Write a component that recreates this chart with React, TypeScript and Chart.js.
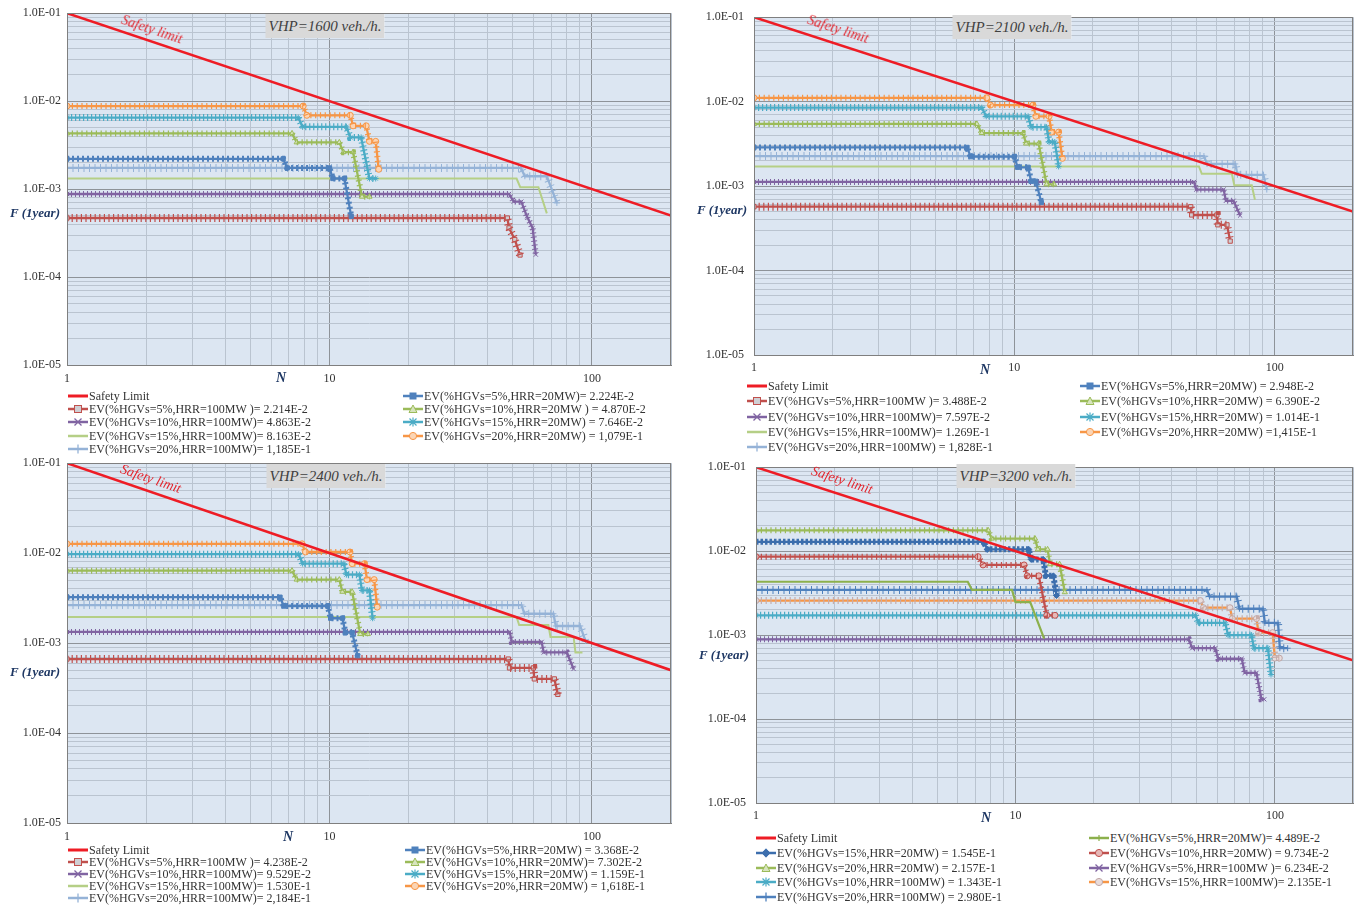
import React, { useEffect, useRef } from 'react';
import { Chart, registerables } from 'chart.js';
Chart.register(...registerables);

type Pt = [number, number];

// ---------------- DATA ----------------
const SAFETY_LIMIT: Pt[] = [[1, 0.1], [200, 0.0005]];

// VHP = 1600 veh./h
const P1_5_100: Pt[] = [[1, 4.69e-4], [47.6, 4.69e-4], [48.3, 3.62e-4], [50.8, 2.67e-4], [53.2, 1.78e-4]];
const P1_10_100: Pt[] = [[1, 8.8e-4], [48.3, 8.8e-4], [50.3, 7.2e-4], [53.8, 7.2e-4], [56.5, 4.9e-4], [59.4, 3.6e-4], [61.1, 1.8e-4]];
const P1_15_100: Pt[] = [[1, 1.32e-3], [51.6, 1.32e-3], [53.3, 1.05e-3], [62.5, 1.05e-3], [67.3, 5.3e-4]];
const P1_20_100: Pt[] = [[1, 1.74e-3], [53.6, 1.74e-3], [55.5, 1.4e-3], [67.3, 1.4e-3], [73.5, 6.96e-4]];
const P1_5_20: Pt[] = [[1, 2.21e-3], [6.66, 2.21e-3], [6.9, 1.74e-3], [10, 1.74e-3], [10.3, 1.32e-3], [11.4, 1.32e-3], [12.1, 4.9e-4]];
const P1_10_20: Pt[] = [[1, 4.3e-3], [7.2, 4.3e-3], [7.5, 3.4e-3], [10.9, 3.4e-3], [11.3, 2.63e-3], [12.3, 2.63e-3], [13.3, 8.2e-4], [14.2, 8.2e-4]];
const P1_15_20: Pt[] = [[1, 6.5e-3], [7.6, 6.5e-3], [7.9, 5.1e-3], [11.6, 5.1e-3], [12.0, 3.87e-3], [13.2, 3.87e-3], [14.2, 1.32e-3], [15.0, 1.32e-3]];
const P1_20_20: Pt[] = [[1, 8.8e-3], [7.94, 8.8e-3], [8.2, 6.9e-3], [12.0, 6.9e-3], [12.3, 5.24e-3], [13.8, 5.24e-3], [14.2, 3.49e-3], [15.0, 3.49e-3], [15.4, 1.68e-3]];

// VHP = 2100 veh./h
const P2_5_100: Pt[] = [[1, 5.7e-4], [47.6, 5.7e-4], [48, 4.55e-4], [60, 4.55e-4], [60.5, 3.48e-4], [65.6, 3.48e-4], [67.5, 2.23e-4]];
const P2_10_100: Pt[] = [[1, 1.12e-3], [49, 1.12e-3], [50, 9.1e-4], [63.7, 9.1e-4], [65, 6.7e-4], [69.5, 6.7e-4], [73.7, 4.48e-4]];
const P2_15_100: Pt[] = [[1, 1.71e-3], [51.2, 1.71e-3], [52.5, 1.4e-3], [68.5, 1.4e-3], [70, 1.02e-3], [81.7, 1.02e-3], [84, 6.9e-4]];
const P2_20_100: Pt[] = [[1, 2.27e-3], [53.5, 2.27e-3], [55, 1.83e-3], [70.6, 1.83e-3], [72, 1.36e-3], [90.6, 1.36e-3], [93.3, 9.1e-4]];
const P2_5_20: Pt[] = [[1, 2.87e-3], [6.58, 2.87e-3], [6.8, 2.23e-3], [10, 2.23e-3], [10.3, 1.67e-3], [11.3, 1.67e-3], [11.6, 1.14e-3], [12.1, 1.14e-3], [12.7, 6.4e-4]];
const P2_10_20: Pt[] = [[1, 5.45e-3], [7.18, 5.45e-3], [7.5, 4.25e-3], [10.8, 4.25e-3], [11.1, 3.19e-3], [12.4, 3.19e-3], [13.3, 1.05e-3], [14.2, 1.05e-3]];
const P2_15_20: Pt[] = [[1, 8.5e-3], [7.5, 8.5e-3], [7.8, 6.7e-3], [11.3, 6.7e-3], [11.6, 4.99e-3], [13.3, 4.99e-3], [13.6, 3.33e-3], [14.3, 3.33e-3], [14.8, 1.71e-3]];
const P2_20_20: Pt[] = [[1, 1.11e-2], [7.83, 1.11e-2], [8.1, 9.1e-3], [11.8, 9.1e-3], [12.1, 6.7e-3], [13.6, 6.7e-3], [13.9, 4.36e-3], [14.8, 4.36e-3], [15.3, 2.13e-3]];

// VHP = 2400 veh./h
const P3_5_100: Pt[] = [[1, 6.65e-4], [48, 6.65e-4], [48.5, 5.3e-4], [59.8, 5.3e-4], [60.3, 4.0e-4], [71.9, 4.0e-4], [74.1, 2.69e-4]];
const P3_10_100: Pt[] = [[1, 1.33e-3], [48.6, 1.33e-3], [49.5, 1.03e-3], [64.3, 1.03e-3], [65.5, 7.87e-4], [80.2, 7.87e-4], [85.1, 5.16e-4]];
const P3_15_100: Pt[] = [[1, 1.95e-3], [51.6, 1.95e-3], [52.8, 1.59e-3], [68.2, 1.59e-3], [69.5, 1.17e-3], [85.1, 1.17e-3], [86.5, 7.87e-4], [92, 7.87e-4]];
const P3_20_100: Pt[] = [[1, 2.65e-3], [53.9, 2.65e-3], [55.3, 2.12e-3], [71.3, 2.12e-3], [72.8, 1.55e-3], [90.2, 1.55e-3], [94.4, 1.06e-3]];
const P3_5_20: Pt[] = [[1, 3.24e-3], [6.48, 3.24e-3], [6.7, 2.58e-3], [9.85, 2.58e-3], [10.1, 1.89e-3], [11.2, 1.89e-3], [11.5, 1.31e-3], [12.2, 1.31e-3], [12.8, 7.24e-4]];
const P3_10_20: Pt[] = [[1, 6.39e-3], [7.2, 6.39e-3], [7.5, 5.08e-3], [10.9, 5.08e-3], [11.2, 3.72e-3], [12.2, 3.72e-3], [13.1, 1.26e-3], [14.0, 1.26e-3]];
const P3_15_20: Pt[] = [[1, 9.75e-3], [7.63, 9.75e-3], [7.9, 7.64e-3], [11.35, 7.64e-3], [11.6, 5.77e-3], [13.0, 5.77e-3], [13.3, 3.85e-3], [14.2, 3.85e-3], [14.6, 1.89e-3]];
const P3_20_20: Pt[] = [[1, 1.27e-2], [7.86, 1.27e-2], [8.1, 1.03e-2], [11.97, 1.03e-2], [12.2, 7.64e-3], [13.6, 7.64e-3], [13.9, 5.08e-3], [14.8, 5.08e-3], [15.2, 2.51e-3]];

// VHP = 3200 veh./h
const P4_5_20: Pt[] = [[1, 4.32e-3], [6.55, 4.32e-3], [6.8, 3.45e-3], [9.7, 3.45e-3], [10, 2.47e-3], [11.4, 2.47e-3], [12.9, 9.1e-4]];
const P4_10_20: Pt[] = [[1, 8.6e-3], [7.18, 8.6e-3], [7.5, 6.85e-3], [10.8, 6.85e-3], [11.1, 5.08e-3], [12.3, 5.08e-3], [13.2, 1.72e-3], [14.2, 1.72e-3]];
const P4_15_20: Pt[] = [[1, 1.29e-2], [7.53, 1.29e-2], [7.8, 1.05e-2], [11.25, 1.05e-2], [11.5, 7.98e-3], [12.8, 7.98e-3], [13.1, 5.08e-3], [14.0, 5.08e-3], [14.4, 2.96e-3]];
const P4_20_20: Pt[] = [[1, 1.77e-2], [7.85, 1.77e-2], [8.1, 1.41e-2], [11.9, 1.41e-2], [12.2, 1.05e-2], [13.3, 1.05e-2], [13.6, 6.98e-3], [14.8, 6.98e-3], [15.5, 3.24e-3]];
const P4_5_100: Pt[] = [[1, 8.9e-4], [46.6, 8.9e-4], [48, 6.98e-4], [58.9, 6.98e-4], [60.5, 5.23e-4], [74.5, 5.23e-4], [76.5, 3.55e-4], [84.9, 3.55e-4], [88.7, 1.72e-4], [91, 1.72e-4]];
const P4_10_100: Pt[] = [[1, 1.72e-3], [49.4, 1.72e-3], [50.8, 1.4e-3], [64.3, 1.4e-3], [66, 1.0e-3], [81.3, 1.0e-3], [83, 6.98e-4], [94, 6.98e-4], [96.6, 3.39e-4]];
const P4_15_100: Pt[] = [[1, 2.58e-3], [51.6, 2.58e-3], [53, 2.12e-3], [67.1, 2.12e-3], [68.5, 1.57e-3], [84.9, 1.57e-3], [86.5, 1.07e-3], [98, 1.07e-3], [100, 5.32e-4], [104, 5.32e-4]];
const P4_20_100: Pt[] = [[1, 3.45e-3], [54.7, 3.45e-3], [56, 2.88e-3], [71.3, 2.88e-3], [73, 2.06e-3], [90, 2.06e-3], [91.5, 1.4e-3], [102.8, 1.4e-3], [104.5, 6.98e-4], [112, 6.98e-4]];

// Axis ticks
const X_MIN = 1;
const X_MAX = 200;
const X_GRID = [1, 2, 3, 4, 5, 6, 7, 8, 9, 10, 20, 30, 40, 50, 60, 70, 80, 90, 100, 200];
const X_MAJOR = [1, 10, 100];
const X_LABELS = ['1', '10', '100'];
const Y_MIN = 1e-5;
const Y_MAX = 1e-1;
const Y_MAJOR = [1e-5, 1e-4, 1e-3, 1e-2, 1e-1];
const Y_LABELS = ['1.0E-05', '1.0E-04', '1.0E-03', '1.0E-02', '1.0E-01'];
const Y_MINOR_STEPS = [2, 3, 4, 5, 6, 7, 8, 9];
const Y_GRID = Y_MAJOR.slice(0, 4).flatMap((d) => [d, ...Y_MINOR_STEPS.map((m) => d * m)]).concat([Y_MAX]);

const TITLES = ['VHP=1600 veh./h.', 'VHP=2100 veh./h.', 'VHP=2400 veh./h.', 'VHP=3200 veh./h.'];

// ---------------- STYLES ----------------
const SERIF = '"Liberation Serif", "Times New Roman", Times, serif';
const PLOT_BG = '#DCE6F2';
const MAJOR_GRID = '#8E9399';
const MINOR_GRID = '#BAC4D0';
const AXIS_BORDER = '#7F7F7F';
const SAFETY_COLOR = '#EE1C25';
const NAVY = '#1F3864';
const TEXT = '#333333';

interface Sty {
  color: string;
  marker: string;
  fill?: string;
  markerColor?: string;
  width?: number;
  hatch?: { w: number; dash: number[]; color?: string };
}

const STYLES: Record<string, Sty> = {
  safety: { color: SAFETY_COLOR, marker: 'none', width: 2.6 },
  blueSq: { color: '#4F81BD', marker: 'rect', fill: '#4F81BD', hatch: { w: 6, dash: [2, 3] } },
  redSq: { color: '#C0504D', marker: 'openRect', fill: '#CFCFD4', hatch: { w: 8, dash: [1.2, 3.4] } },
  greenTri: { color: '#9BBB59', marker: 'triangle', fill: '#D7E4BD', hatch: { w: 6, dash: [1.2, 3.6] } },
  purpleX: { color: '#8064A2', marker: 'crossRot', hatch: { w: 6, dash: [1, 3] } },
  tealStar: { color: '#4BACC6', marker: 'star', hatch: { w: 7, dash: [1.2, 2.8] } },
  lgPlain: { color: '#B5CF86', marker: 'none', width: 2 },
  orangeCirc: { color: '#F79646', marker: 'circle', fill: '#FBD5B5', hatch: { w: 6, dash: [1.2, 3.6] } },
  lbPlus: { color: '#95B3D7', marker: 'cross', hatch: { w: 8, dash: [1, 4.5] } },
  blueDia: { color: '#3C6EAD', marker: 'rectRot', fill: '#3C6EAD', hatch: { w: 6, dash: [2.5, 2] } },
  greenPlain: { color: '#8CB04C', marker: 'tick', width: 2.2 },
  redCirc: { color: '#C0504D', marker: 'circle', fill: '#E6B9B8', hatch: { w: 6, dash: [1.2, 3.6] } },
  bluePlus: { color: '#4F81BD', marker: 'cross', hatch: { w: 8, dash: [1, 4.5] } },
  tanCirc: { color: '#F79646', marker: 'circle', markerColor: '#BFA6A6', fill: '#E8DCDC', hatch: { w: 7, dash: [1.2, 3.6], color: '#C7ADAA' } },
};

const POINT_STYLE: Record<string, any> = {
  rect: 'rect', openRect: 'rect', triangle: 'triangle', crossRot: 'crossRot', star: 'star',
  circle: 'circle', cross: 'cross', rectRot: 'rectRot',
};

interface SeriesCfg { label: string; data: Pt[]; style: string; col: 0 | 1; }

const PANEL_SERIES: SeriesCfg[][] = [
  [
    { label: 'EV(%HGVs=5%,HRR=20MW)= 2.224E-2', data: P1_5_20, style: 'blueSq', col: 1 },
    { label: 'EV(%HGVs=5%,HRR=100MW )= 2.214E-2', data: P1_5_100, style: 'redSq', col: 0 },
    { label: 'EV(%HGVs=10%,HRR=20MW ) = 4.870E-2', data: P1_10_20, style: 'greenTri', col: 1 },
    { label: 'EV(%HGVs=10%,HRR=100MW)= 4.863E-2', data: P1_10_100, style: 'purpleX', col: 0 },
    { label: 'EV(%HGVs=15%,HRR=20MW) = 7.646E-2', data: P1_15_20, style: 'tealStar', col: 1 },
    { label: 'EV(%HGVs=15%,HRR=100MW)= 8.163E-2', data: P1_15_100, style: 'lgPlain', col: 0 },
    { label: 'EV(%HGVs=20%,HRR=20MW) = 1,079E-1', data: P1_20_20, style: 'orangeCirc', col: 1 },
    { label: 'EV(%HGVs=20%,HRR=100MW)= 1,185E-1', data: P1_20_100, style: 'lbPlus', col: 0 },
  ],
  [
    { label: 'EV(%HGVs=5%,HRR=20MW) = 2.948E-2', data: P2_5_20, style: 'blueSq', col: 1 },
    { label: 'EV(%HGVs=5%,HRR=100MW )= 3.488E-2', data: P2_5_100, style: 'redSq', col: 0 },
    { label: 'EV(%HGVs=10%,HRR=20MW) = 6.390E-2', data: P2_10_20, style: 'greenTri', col: 1 },
    { label: 'EV(%HGVs=10%,HRR=100MW)= 7.597E-2', data: P2_10_100, style: 'purpleX', col: 0 },
    { label: 'EV(%HGVs=15%,HRR=20MW) = 1.014E-1', data: P2_15_20, style: 'tealStar', col: 1 },
    { label: 'EV(%HGVs=15%,HRR=100MW)= 1.269E-1', data: P2_15_100, style: 'lgPlain', col: 0 },
    { label: 'EV(%HGVs=20%,HRR=20MW) =1,415E-1', data: P2_20_20, style: 'orangeCirc', col: 1 },
    { label: 'EV(%HGVs=20%,HRR=100MW) = 1,828E-1', data: P2_20_100, style: 'lbPlus', col: 0 },
  ],
  [
    { label: 'EV(%HGVs=5%,HRR=20MW) = 3.368E-2', data: P3_5_20, style: 'blueSq', col: 1 },
    { label: 'EV(%HGVs=5%,HRR=100MW )= 4.238E-2', data: P3_5_100, style: 'redSq', col: 0 },
    { label: 'EV(%HGVs=10%,HRR=20MW)= 7.302E-2', data: P3_10_20, style: 'greenTri', col: 1 },
    { label: 'EV(%HGVs=10%,HRR=100MW)= 9.529E-2', data: P3_10_100, style: 'purpleX', col: 0 },
    { label: 'EV(%HGVs=15%,HRR=20MW) = 1.159E-1', data: P3_15_20, style: 'tealStar', col: 1 },
    { label: 'EV(%HGVs=15%,HRR=100MW)= 1.530E-1', data: P3_15_100, style: 'lgPlain', col: 0 },
    { label: 'EV(%HGVs=20%,HRR=20MW) = 1,618E-1', data: P3_20_20, style: 'orangeCirc', col: 1 },
    { label: 'EV(%HGVs=20%,HRR=100MW)= 2,184E-1', data: P3_20_100, style: 'lbPlus', col: 0 },
  ],
  [
    { label: 'EV(%HGVs=5%,HRR=20MW)= 4.489E-2', data: P4_5_20, style: 'greenPlain', col: 1 },
    { label: 'EV(%HGVs=15%,HRR=20MW) = 1.545E-1', data: P4_15_20, style: 'blueDia', col: 0 },
    { label: 'EV(%HGVs=10%,HRR=20MW) = 9.734E-2', data: P4_10_20, style: 'redCirc', col: 1 },
    { label: 'EV(%HGVs=20%,HRR=20MW) = 2.157E-1', data: P4_20_20, style: 'greenTri', col: 0 },
    { label: 'EV(%HGVs=5%,HRR=100MW )= 6.234E-2', data: P4_5_100, style: 'purpleX', col: 1 },
    { label: 'EV(%HGVs=10%,HRR=100MW) = 1.343E-1', data: P4_10_100, style: 'tealStar', col: 0 },
    { label: 'EV(%HGVs=15%,HRR=100MW)= 2.135E-1', data: P4_15_100, style: 'tanCirc', col: 1 },
    { label: 'EV(%HGVs=20%,HRR=100MW) = 2.980E-1', data: P4_20_100, style: 'bluePlus', col: 0 },
  ],
];

// ---------------- LAYOUT ----------------
interface Layout {
  canvas: { left: number; top: number; width: number; height: number };
  plot: { left: number; top: number; right: number; bottom: number };
  yPad: number; xPad: number;
  title: { cx: number; cy: number };
  safety: { left: number; top: number; angle: number };
  fLabel: { cx: number; cy: number };
  nLabel: { cx: number; cy: number };
  legend: { lx: number; rx: number; y0: number; dy: number };
}

const LAYOUTS: Layout[] = [
  {
    canvas: { left: 0, top: 0, width: 680, height: 392 },
    plot: { left: 67, top: 12, right: 671, bottom: 365 },
    yPad: 6, xPad: 7,
    title: { cx: 325, cy: 26 }, safety: { left: 124, top: 13, angle: 18.6 },
    fLabel: { cx: 35, cy: 213 }, nLabel: { cx: 281, cy: 378 },
    legend: { lx: 68, rx: 403, y0: 396, dy: 13.2 },
  },
  {
    canvas: { left: 680, top: 0, width: 679, height: 382 },
    plot: { left: 754, top: 12, right: 1357, bottom: 355 },
    yPad: 10, xPad: 6,
    title: { cx: 1012, cy: 27 }, safety: { left: 810, top: 13, angle: 18.1 },
    fLabel: { cx: 722, cy: 210 }, nLabel: { cx: 985, cy: 370 },
    legend: { lx: 747, rx: 1080, y0: 386, dy: 15.3 },
  },
  {
    canvas: { left: 0, top: 450, width: 680, height: 400 },
    plot: { left: 67, top: 461, right: 671, bottom: 823 },
    yPad: 6, xPad: 7,
    title: { cx: 326, cy: 476 }, safety: { left: 123, top: 462, angle: 19.1 },
    fLabel: { cx: 35, cy: 672 }, nLabel: { cx: 288, cy: 837 },
    legend: { lx: 68, rx: 405, y0: 850, dy: 12 },
  },
  {
    canvas: { left: 680, top: 450, width: 679, height: 380 },
    plot: { left: 756, top: 462, right: 1359, bottom: 803 },
    yPad: 10, xPad: 6,
    title: { cx: 1016, cy: 476 }, safety: { left: 814, top: 464, angle: 18 },
    fLabel: { cx: 724, cy: 655 }, nLabel: { cx: 986, cy: 818 },
    legend: { lx: 756, rx: 1089, y0: 838, dy: 14.8 },
  },
];

// ---------------- PLUGINS ----------------
const plotBgPlugin = {
  id: 'plotBg',
  beforeDraw(chart: any) {
    const { ctx, chartArea: a } = chart;
    ctx.save();
    ctx.fillStyle = PLOT_BG;
    ctx.fillRect(a.left, a.top, a.right - a.left, a.bottom - a.top);
    ctx.restore();
  },
  afterDraw(chart: any) {
    const { ctx, chartArea: a } = chart;
    ctx.save();
    ctx.strokeStyle = AXIS_BORDER;
    ctx.lineWidth = 1;
    ctx.strokeRect(Math.round(a.left) + 0.5, Math.round(a.top) + 0.5, Math.round(a.right - a.left) - 1, Math.round(a.bottom - a.top));
    ctx.restore();
  },
};

const hatchPlugin = {
  id: 'hatch',
  afterDatasetDraw(chart: any, args: any) {
    const ds = chart.data.datasets[args.index];
    const h = ds && ds.hatch;
    if (!h) return;
    const pts = args.meta.data;
    if (!pts || pts.length < 2) return;
    const { ctx, chartArea: a } = chart;
    ctx.save();
    ctx.beginPath();
    ctx.rect(a.left, a.top, a.right - a.left, a.bottom - a.top);
    ctx.clip();
    ctx.beginPath();
    pts.forEach((p: any, i: number) => (i ? ctx.lineTo(p.x, p.y) : ctx.moveTo(p.x, p.y)));
    ctx.setLineDash(h.dash);
    ctx.lineCap = 'butt';
    ctx.lineJoin = 'miter';
    ctx.lineWidth = h.w;
    ctx.strokeStyle = h.color || ds.borderColor;
    ctx.stroke();
    ctx.restore();
  },
};

// ---------------- COMPONENTS ----------------
function FNChart({ idx }: { idx: number }) {
  const ref = useRef<HTMLCanvasElement>(null);
  const L = LAYOUTS[idx];
  useEffect(() => {
    const c = L.canvas;
    const p = L.plot;
    const yW = p.left - c.left;
    const xH = c.top + c.height - p.bottom;
    const toXY = (d: Pt[]) => d.map(([x, y]) => ({ x, y }));
    const datasets: any[] = [
      {
        label: 'Safety Limit', data: toXY(SAFETY_LIMIT), borderColor: SAFETY_COLOR,
        borderWidth: STYLES.safety.width, pointRadius: 0, tension: 0,
      },
      ...PANEL_SERIES[idx].map((s) => {
        const st = STYLES[s.style];
        const ps = POINT_STYLE[st.marker];
        return {
          label: s.label,
          data: toXY(s.data),
          borderColor: st.color,
          borderWidth: st.width ?? 2.3,
          tension: 0,
          pointStyle: ps || false,
          pointRadius: ps ? 3 : 0,
          pointBorderWidth: 1,
          pointBorderColor: st.markerColor ?? st.color,
          pointBackgroundColor: st.fill ?? 'rgba(255,255,255,0)',
          hatch: st.hatch,
        };
      }),
    ];
    const tickFont = { family: SERIF, size: 12 };
    const chart = new Chart(ref.current as HTMLCanvasElement, {
      type: 'line',
      data: { datasets },
      options: {
        responsive: false,
        animation: false,
        events: [],
        layout: { padding: { left: 0, top: p.top - c.top, right: c.left + c.width - p.right, bottom: 0 } },
        plugins: { legend: { display: false }, tooltip: { enabled: false }, title: { display: false } },
        scales: {
          x: {
            type: 'logarithmic', min: X_MIN, max: X_MAX,
            afterBuildTicks: (s: any) => { s.ticks = X_GRID.map((v) => ({ value: v })); },
            afterFit: (s: any) => { s.height = xH; },
            ticks: {
              autoSkip: false, maxRotation: 0, minRotation: 0, padding: L.xPad, font: tickFont, color: TEXT,
              callback: (v: any) => { const i = X_MAJOR.indexOf(Number(v)); return i >= 0 ? X_LABELS[i] : ''; },
            },
            grid: {
              drawTicks: false, lineWidth: 1,
              color: (ctx: any) => (ctx.tick && X_MAJOR.includes(ctx.tick.value) ? MAJOR_GRID : MINOR_GRID),
            },
            border: { display: true, color: AXIS_BORDER },
          },
          y: {
            type: 'logarithmic', min: Y_MIN, max: Y_MAX,
            afterBuildTicks: (s: any) => { s.ticks = Y_GRID.map((v) => ({ value: v })); },
            afterFit: (s: any) => { s.width = yW; },
            ticks: {
              autoSkip: false, padding: L.yPad, font: tickFont, color: TEXT,
              callback: (v: any) => { const i = Y_MAJOR.indexOf(Number(v)); return i >= 0 ? Y_LABELS[i] : ''; },
            },
            grid: {
              drawTicks: false, lineWidth: 1,
              color: (ctx: any) => (ctx.tick && Y_MAJOR.includes(ctx.tick.value) ? MAJOR_GRID : MINOR_GRID),
            },
            border: { display: true, color: AXIS_BORDER },
          },
        },
      } as any,
      plugins: [plotBgPlugin, hatchPlugin],
    });
    return () => chart.destroy();
  }, [idx]);
  const c = L.canvas;
  return (
    <canvas
      ref={ref}
      width={c.width}
      height={c.height}
      style={{ position: 'absolute', left: c.left, top: c.top, width: c.width, height: c.height }}
    />
  );
}

function Swatch({ st, safety }: { st: Sty; safety?: boolean }) {
  const c = st.color;
  const m = st.markerColor ?? st.color;
  let mk: any = null;
  switch (st.marker) {
    case 'rect': mk = <rect x={7} y={4} width={6} height={6} fill={st.fill ?? c} stroke={m} />; break;
    case 'openRect': mk = <rect x={6.5} y={3.5} width={7} height={7} fill={st.fill ?? '#ccc'} stroke={m} />; break;
    case 'triangle': mk = <polygon points="10,3 14,10.5 6,10.5" fill={st.fill ?? 'none'} stroke={m} />; break;
    case 'crossRot': mk = <path d="M6.5 3.5 L13.5 10.5 M13.5 3.5 L6.5 10.5" stroke={m} strokeWidth={1.3} />; break;
    case 'star': mk = <path d="M6.5 3.5 L13.5 10.5 M13.5 3.5 L6.5 10.5 M10 2.5 V11.5" stroke={m} strokeWidth={1.2} />; break;
    case 'circle': mk = <circle cx={10} cy={7} r={3.6} fill={st.fill ?? 'none'} stroke={m} />; break;
    case 'cross': mk = <path d="M10 2.5 V11.5 M5.5 7 H14.5" stroke={m} strokeWidth={1.3} />; break;
    case 'rectRot': mk = <polygon points="10,2.8 14,7 10,11.2 6,7" fill={st.fill ?? c} stroke={m} />; break;
    case 'tick': mk = <path d="M10 4 V10" stroke={m} strokeWidth={1.2} />; break;
  }
  return (
    <svg width={20} height={14} style={{ flex: '0 0 20px' }}>
      <line x1={0} y1={7} x2={20} y2={7} stroke={c} strokeWidth={safety ? 3 : 2.5} />
      {mk}
    </svg>
  );
}

function Overlays({ idx }: { idx: number }) {
  const L = LAYOUTS[idx];
  const series = PANEL_SERIES[idx];
  const left = [{ label: 'Safety Limit', st: STYLES.safety, safety: true }, ...series.filter((s) => s.col === 0).map((s) => ({ label: s.label, st: STYLES[s.style], safety: false }))];
  const right = series.filter((s) => s.col === 1).map((s) => ({ label: s.label, st: STYLES[s.style], safety: false }));
  const item = (it: any, x: number, row: number, key: string) => (
    <div
      key={key}
      style={{
        position: 'absolute', left: x, top: L.legend.y0 + row * L.legend.dy - 7, height: 14,
        display: 'flex', alignItems: 'center', fontFamily: SERIF, fontSize: 12, lineHeight: '14px',
        color: TEXT, whiteSpace: 'pre',
      }}
    >
      <Swatch st={it.st} safety={it.safety} />
      <span style={{ marginLeft: 1 }}>{it.label}</span>
    </div>
  );
  return (
    <>
      <div
        style={{
          position: 'absolute', left: L.title.cx, top: L.title.cy, transform: 'translate(-50%, -50%)',
          background: '#D9D9D9', padding: '0 3px', height: 24, lineHeight: '24px',
          fontFamily: SERIF, fontStyle: 'italic', fontSize: 15, color: '#404040', whiteSpace: 'nowrap',
        }}
      >
        {TITLES[idx]}
      </div>
      <div
        style={{
          position: 'absolute', left: L.safety.left, top: L.safety.top, transformOrigin: '0 0',
          transform: `rotate(${L.safety.angle}deg)`, fontFamily: SERIF, fontStyle: 'italic', fontSize: 14,
          lineHeight: '14px', color: '#E3262E', whiteSpace: 'nowrap',
        }}
      >
        Safety limit
      </div>
      <div
        style={{
          position: 'absolute', left: L.fLabel.cx, top: L.fLabel.cy, transform: 'translate(-50%, -50%)',
          fontFamily: SERIF, fontStyle: 'italic', fontWeight: 'bold', fontSize: 13, color: NAVY, whiteSpace: 'nowrap',
        }}
      >
        F (1year)
      </div>
      <div
        style={{
          position: 'absolute', left: L.nLabel.cx, top: L.nLabel.cy, transform: 'translate(-50%, -50%)',
          fontFamily: SERIF, fontStyle: 'italic', fontWeight: 'bold', fontSize: 14, color: NAVY,
        }}
      >
        N
      </div>
      {left.map((it, i) => item(it, L.legend.lx, i, `l${i}`))}
      {right.map((it, i) => item(it, L.legend.rx, i, `r${i}`))}
    </>
  );
}

export default function App() {
  return (
    <div style={{ position: 'fixed', left: 0, top: 0, width: 1359, height: 907, background: '#fff', overflow: 'hidden' }}>
      {[0, 1, 2, 3].map((i) => <FNChart key={`c${i}`} idx={i} />)}
      {[0, 1, 2, 3].map((i) => <Overlays key={`o${i}`} idx={i} />)}
    </div>
  );
}
